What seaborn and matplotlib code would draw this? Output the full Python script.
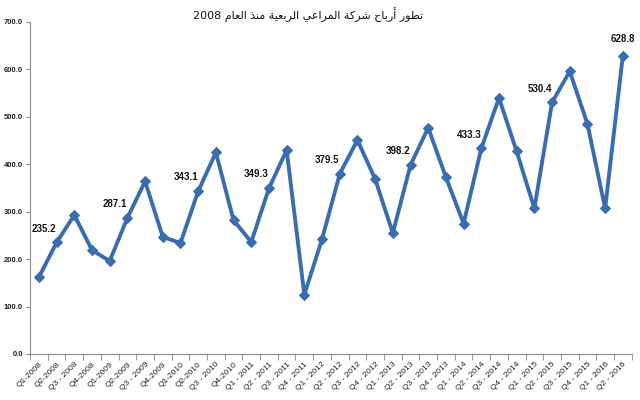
import matplotlib
matplotlib.use("Agg")
import matplotlib.pyplot as plt
import seaborn as sns
import pandas as pd
import numpy as np

quarters = ["Q1-2008", "Q2-2008", "Q3 - 2008", "Q4-2008",
            "Q1-2009", "Q2-2009", "Q3 - 2009", "Q4-2009",
            "Q1-2010", "Q2-2010", "Q3 - 2010", "Q4-2010",
            "Q1 - 2011", "Q2 - 2011", "Q3 - 2011", "Q4 - 2011",
            "Q1 - 2012", "Q2 - 2012", "Q3 - 2012", "Q4 - 2012",
            "Q1 - 2013", "Q2 - 2013", "Q3 - 2013", "Q4 - 2013",
            "Q1 - 2014", "Q2 - 2014", "Q3 - 2014", "Q4 - 2014",
            "Q1 - 2015", "Q2 - 2015", "Q3 - 2015", "Q4 - 2015",
            "Q1 - 2016", "Q2 - 2016"]
profits = [162, 235.2, 293, 219,
           196, 287.1, 364, 247,
           234, 343.1, 425, 282,
           236, 349.3, 430, 125,
           242, 379.5, 451, 369,
           255, 398.2, 477, 373,
           275, 433.3, 540, 427,
           307, 530.4, 596, 485,
           307, 628.8]
labelled = ["Q2-2008", "Q2-2009", "Q2-2010", "Q2 - 2011", "Q2 - 2012",
            "Q2 - 2013", "Q2 - 2014", "Q2 - 2015", "Q2 - 2016"]

title_ar = "تطور أرباح شركة المراعي الربعية منذ العام 2008"

# minimal arabic shaping (no reshaper lib available)
FORMS = {
    "ا": ("\uFE8D", "\uFE8E", None, None),
    "أ": ("\uFE83", "\uFE84", None, None),
    "ب": ("\uFE8F", "\uFE90", "\uFE91", "\uFE92"),
    "ة": ("\uFE93", "\uFE94", None, None),
    "ت": ("\uFE95", "\uFE96", "\uFE97", "\uFE98"),
    "ح": ("\uFEA1", "\uFEA2", "\uFEA3", "\uFEA4"),
    "ذ": ("\uFEAB", "\uFEAC", None, None),
    "ر": ("\uFEAD", "\uFEAE", None, None),
    "ش": ("\uFEB5", "\uFEB6", "\uFEB7", "\uFEB8"),
    "ط": ("\uFEC1", "\uFEC2", "\uFEC3", "\uFEC4"),
    "ع": ("\uFEC9", "\uFECA", "\uFECB", "\uFECC"),
    "ك": ("\uFED9", "\uFEDA", "\uFEDB", "\uFEDC"),
    "ل": ("\uFEDD", "\uFEDE", "\uFEDF", "\uFEE0"),
    "م": ("\uFEE1", "\uFEE2", "\uFEE3", "\uFEE4"),
    "ن": ("\uFEE5", "\uFEE6", "\uFEE7", "\uFEE8"),
    "و": ("\uFEED", "\uFEEE", None, None),
    "ي": ("\uFEF1", "\uFEF2", "\uFEF3", "\uFEF4"),
}


def shape_word(w):
    out = []
    for i, c in enumerate(w):
        if c not in FORMS:
            out.append(c)
            continue
        prev = w[i - 1] if i > 0 else None
        nxt = w[i + 1] if i + 1 < len(w) else None
        jp = prev in FORMS and FORMS[prev][2] is not None
        jn = FORMS[c][2] is not None and nxt in FORMS
        iso, fin, ini, med = FORMS[c]
        if jp and jn:
            out.append(med)
        elif jp:
            out.append(fin)
        elif jn:
            out.append(ini)
        else:
            out.append(iso)
    return "".join(out)


def visual(text):
    words = []
    for w in text.split(" "):
        if any(c in FORMS for c in w):
            words.append(shape_word(w)[::-1])
        else:
            words.append(w)
    return " ".join(words[::-1])


sns.set_style("white")
plt.rcParams["font.family"] = ["Liberation Sans", "DejaVu Sans"]

df = pd.DataFrame({"idx": np.arange(len(quarters)), "quarter": quarters, "profit": profits})

fig = plt.figure(figsize=(6.4, 4), dpi=100)
ax = fig.add_axes([0.047, 0.115, 0.94, 0.83])

color = "#3A6DB0"
sns.lineplot(data=df, x="idx", y="profit", ax=ax, color=color, linewidth=2.8,
             marker="D", markersize=5, markeredgecolor=color)

for i, row in df.iterrows():
    if row["quarter"] in labelled:
        off = (0, 12) if i == len(df) - 1 else (-9, 10)
        ax.annotate(f"{row['profit']:.1f}", (row["idx"], row["profit"]),
                    xytext=off, textcoords="offset points", ha="center", va="center",
                    fontsize=7, fontweight="bold", color="#111111")

ax.set_xlim(-0.5, len(quarters) - 0.5)
ax.set_ylim(0, 700)
ax.set_yticks(np.arange(0, 701, 100))
ax.set_yticklabels([f"{v:.1f}" for v in np.arange(0, 701, 100)], fontsize=5.5, fontweight="bold",
                   color="#222222")
ax.set_xticks(df["idx"])
ax.set_xticklabels(quarters, rotation=45, ha="right", rotation_mode="anchor", fontsize=6,
                   color="#222222")
ax.set_xticks(np.arange(-0.5, len(quarters), 1), minor=True)
ax.tick_params(axis="x", which="major", length=0, pad=5)
ax.tick_params(axis="x", which="minor", length=4, color="#888888", direction="out", bottom=True)
ax.tick_params(axis="y", length=3, pad=2, color="#888888", left=True)
ax.set_xlabel("")
ax.set_ylabel("")
for s in ["top", "right"]:
    ax.spines[s].set_visible(False)
for s in ["left", "bottom"]:
    ax.spines[s].set_color("#888888")
    ax.spines[s].set_linewidth(0.8)

fig.text(0.482, 0.963, visual(title_ar), ha="center", va="center", fontsize=8,
         family="DejaVu Sans", color="#111111")

fig.savefig("out.png", dpi=100)
